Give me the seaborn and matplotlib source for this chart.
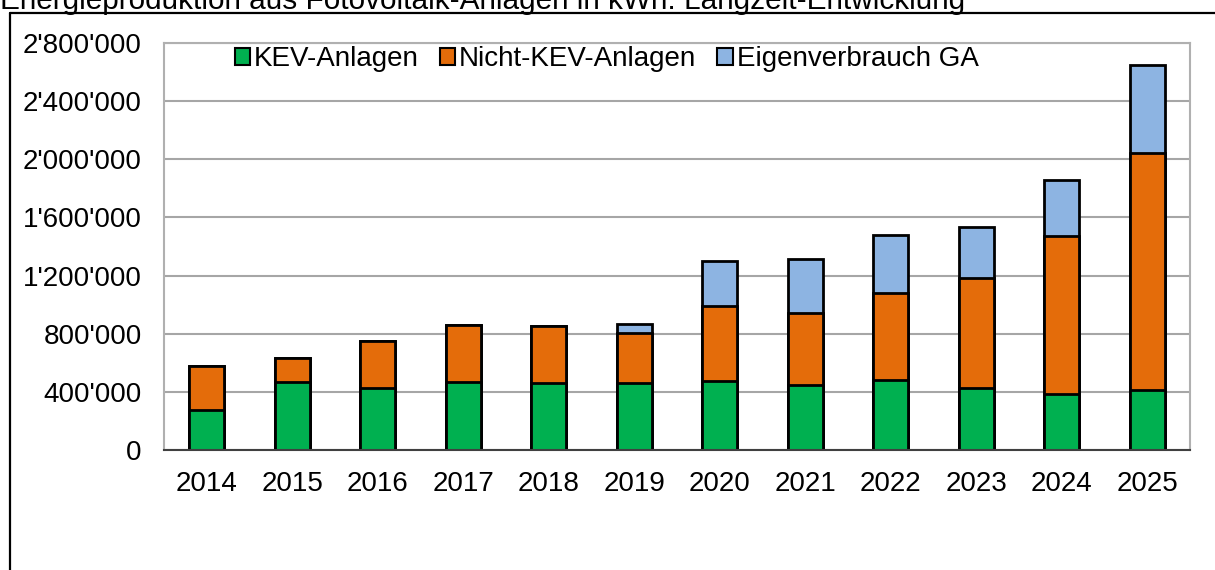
import pandas as pd
import seaborn as sns
import matplotlib.pyplot as plt
from matplotlib.patches import Patch
from matplotlib.lines import Line2D
from matplotlib.ticker import FuncFormatter

years = ["2014", "2015", "2016", "2017", "2018", "2019",
         "2020", "2021", "2022", "2023", "2024", "2025"]
kev = [275000, 466000, 429000, 470000, 463000, 463000,
       477000, 447000, 482000, 427000, 383000, 413000]
nicht_kev = [305000, 165000, 321000, 388000, 390000, 342000,
             514000, 493000, 596000, 758000, 1089000, 1628000]
eigen = [0, 0, 0, 0, 0, 60000,
         309000, 376000, 399000, 349000, 383000, 606000]

labels = ["KEV-Anlagen", "Nicht-KEV-Anlagen", "Eigenverbrauch GA"]
colors = ["#00B050", "#E46C0A", "#8DB4E2"]

df = pd.DataFrame({"Jahr": years, "KEV": kev, "NichtKEV": nicht_kev, "Eigen": eigen})
df["s2"] = df["KEV"] + df["NichtKEV"]
df["s3"] = df["s2"] + df["Eigen"]

sns.set_style("white")
plt.rcParams["font.family"] = ["Liberation Sans", "DejaVu Sans"]
plt.rcParams["text.color"] = "black"
fs = 20

fig = plt.figure(figsize=(12.15, 5.7), dpi=100)
ax = fig.add_axes([164 / 1215, 1 - 450 / 570, (1190 - 164) / 1215, (450 - 43) / 570])

# stacked bars: draw cumulative totals back to front
for col, c in zip(["s3", "s2", "KEV"], colors[::-1]):
    sns.barplot(data=df, x="Jahr", y=col, color=c, width=0.41, edgecolor="black",
                linewidth=2, saturation=1, ax=ax, order=years)

ax.set_ylim(0, 2800000)
ax.set_yticks(range(0, 2800001, 400000))
ax.yaxis.set_major_formatter(FuncFormatter(lambda v, p: f"{int(v):,}".replace(",", "'")))
ax.set_xlabel("")
ax.set_ylabel("")
ax.grid(axis="y", color="#A6A6A6", linewidth=1.5)
ax.set_axisbelow(True)
for s in ["left", "top", "right"]:
    ax.spines[s].set_color("#B0B0B0")
    ax.spines[s].set_linewidth(1.5)
ax.spines["bottom"].set_color("#404040")
ax.spines["bottom"].set_linewidth(1.5)
ax.tick_params(axis="y", length=0, pad=16, labelsize=fs, labelcolor="black")
ax.tick_params(axis="x", length=0, pad=15, labelsize=fs, labelcolor="black")

handles = [Patch(facecolor=c, edgecolor="black", linewidth=1.5, label=l) for c, l in zip(colors, labels)]
ax.legend(handles=handles, ncol=3, loc="upper left", bbox_to_anchor=(0.058, 1.02), frameon=False,
          fontsize=fs, handlelength=0.55, handleheight=0.55, handletextpad=0.15,
          columnspacing=0.75, borderaxespad=0.0, labelcolor="black")

fig.text(0.0, 1 - 9 / 570, "Energieproduktion aus Fotovoltaik-Anlagen in kWh: Langzeit-Entwicklung",
         fontsize=21.4, ha="left", va="baseline", color="black")

x0 = 10 / 1215
y0 = 1 - 13 / 570
fig.add_artist(Line2D([x0, x0], [0, y0], color="black", linewidth=1.6, transform=fig.transFigure))
fig.add_artist(Line2D([x0, 1], [y0, y0], color="black", linewidth=1.6, transform=fig.transFigure))

fig.savefig("out.png", dpi=100)
